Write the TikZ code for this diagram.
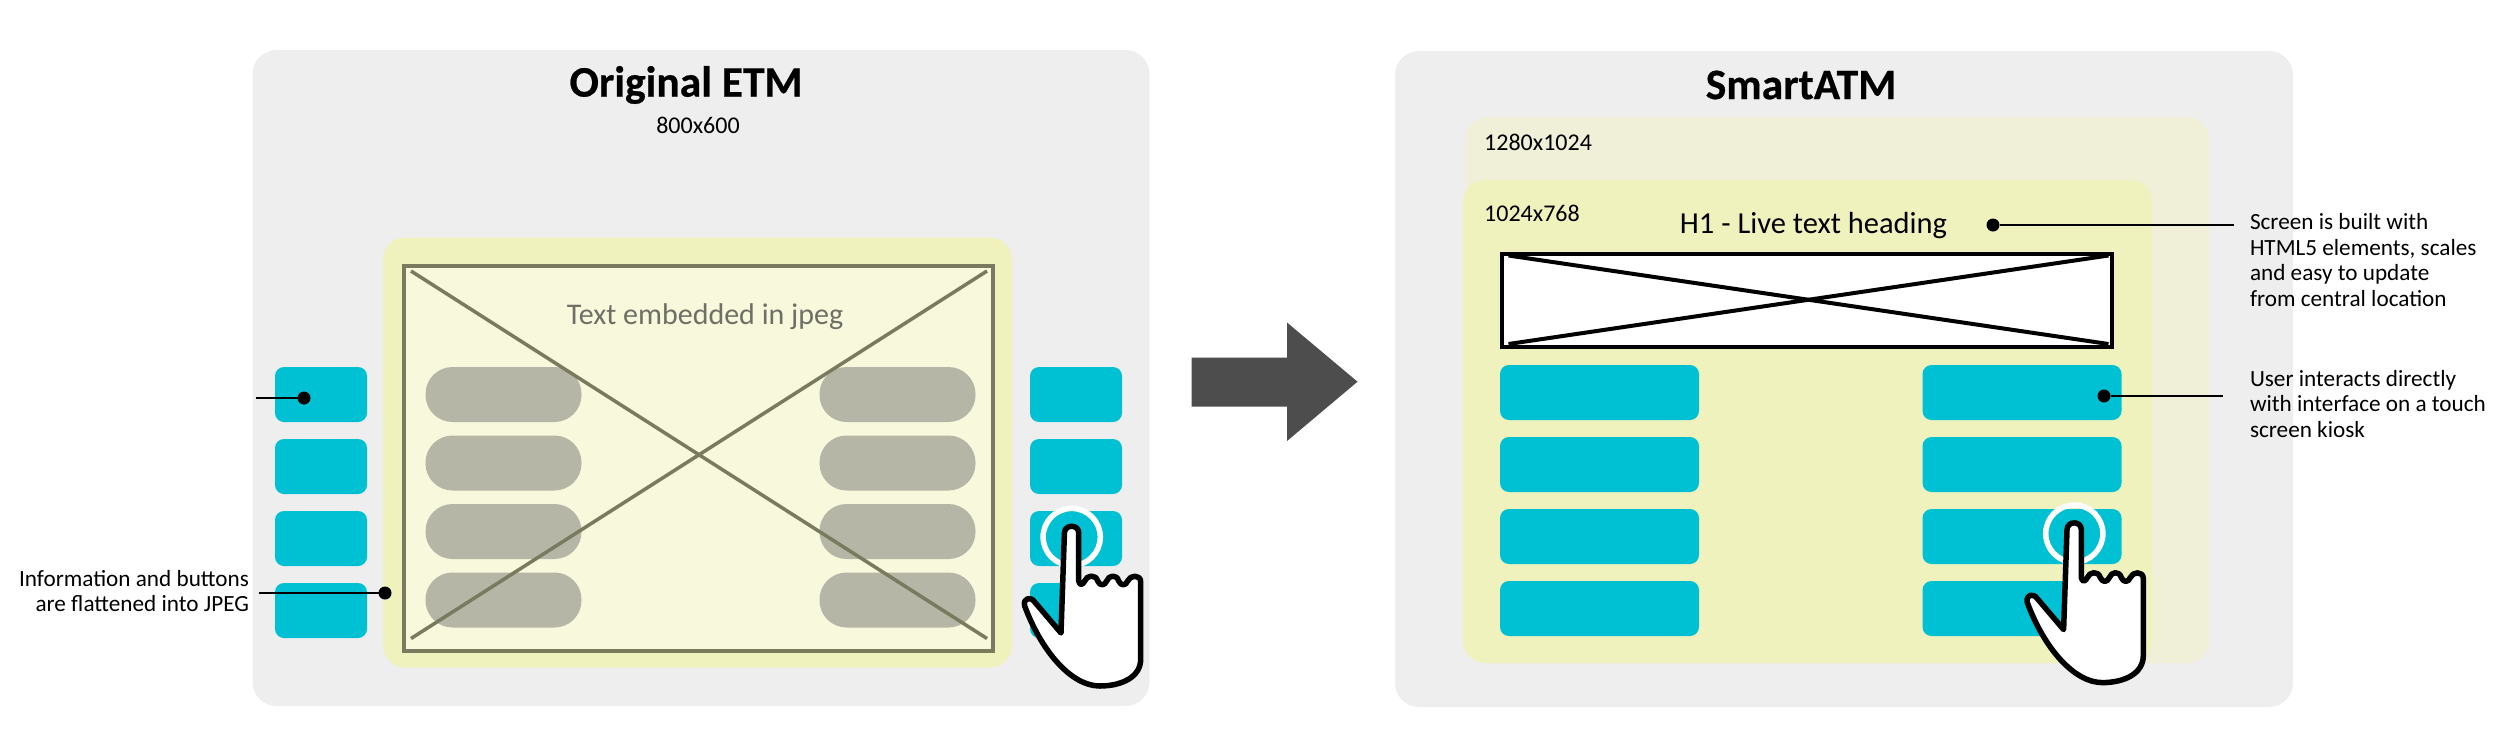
\documentclass[tikz,border=0pt]{standalone}
\usepackage{fontspec}
\setmainfont{Carlito}[BoldFeatures={FakeBold=0.5}]
\usepackage{xcolor}
\usetikzlibrary{positioning}
\definecolor{panelgray}{HTML}{EEEEEE}
\definecolor{screenyellow}{HTML}{F0F2BD}
\definecolor{screenpale}{HTML}{F0F0D8}
\definecolor{jpegfill}{HTML}{F8F8DD}
\definecolor{btncyan}{HTML}{00C1D4}
\definecolor{pillgray}{HTML}{B5B6A6}
\definecolor{jpegline}{HTML}{797A5E}
\definecolor{jpegtextgray}{HTML}{6F7065}
\definecolor{bigarrow}{HTML}{4D4D4D}

\tikzset{
  panel/.style={fill=panelgray, rounded corners=24pt, minimum width=#1, minimum height=656pt, inner sep=0pt, outer sep=0pt},
  screen/.style={rounded corners=22pt, inner sep=0pt, outer sep=0pt},
  keybtn/.style={fill=btncyan, rounded corners=9pt, minimum width=92pt, minimum height=55pt, inner sep=0pt, outer sep=0pt},
  widebtn/.style={keybtn, minimum width=199pt},
  pill/.style={fill=pillgray, rounded corners=27pt, minimum width=156pt, minimum height=55pt, inner sep=0pt, outer sep=0pt},
  dotmark/.style={circle, fill=black, minimum size=13pt, inner sep=0pt, outer sep=0pt},
  leader/.style={draw=black, line width=1.5pt},
  note/.style={font=\fontsize{23.2}{25.8}\selectfont, align=left, inner sep=0pt, outer sep=0pt},
  dims/.style={font=\fontsize{24}{26}\selectfont, inner sep=0pt},
  maintitle/.style={font=\fontsize{43.5}{48}\bfseries\selectfont, inner sep=0pt},
  hand/.pic={
    \begin{scope}
      \clip (-40,-40) rectangle (40,28.4);
      \draw[white, line width=5.5pt] (0,0) circle (28.6);
    \end{scope}
    \draw[black, fill=white, line width=5.5pt, line join=round]
      (-10.7,96) -- (-7.3,-4) .. controls (-7,-13) and (7,-13) .. (7,-4)
      -- (7,44) .. controls (8,49) and (11,48) .. (13,44)
      .. controls (15,38) and (24,37) .. (26,44) .. controls (28,49) and (33,49) .. (35,44)
      .. controls (37,38) and (45,37) .. (47,44) .. controls (49,49) and (54,49) .. (56,44)
      .. controls (58,38) and (69,37) .. (69,45)
      -- (69,122) .. controls (69,140) and (50,149) .. (28,149)
      .. controls (0,149) and (-30,115) .. (-47,69)
      .. controls (-49,61) and (-41,59) .. (-37,65) -- cycle;
  }
}

\begin{document}
\begin{tikzpicture}[x=1pt, y=-1pt]
  \useasboundingbox (0,0) rectangle (2500,748);
  % left panel
  \node[panel=897pt] (etm) at (701,378) {};
  \node[maintitle] (etmtitle) at (686,85) {Original ETM};
  \node[dims] (etmsize) at (698,125) {800x600};
  \node[screen, fill=screenyellow, minimum width=629pt, minimum height=430pt] (jpegscreen) at (697.5,452.5) {};
  \node[draw=jpegline, fill=jpegfill, line width=4pt, minimum width=589pt, minimum height=385pt, inner sep=0pt] (jpegimg) at (698.5,458.5) {};
  \node[font=\fontsize{30}{34}\selectfont, text=jpegtextgray, inner sep=0pt] (jpegtext) at (705,317) {Text embedded in jpeg};

  \node[pill] (pa) at (503.5,394.5) {};
  \node[pill, below=13.5pt of pa] (pb) {};
  \node[pill, below=13.5pt of pb] (pc) {};
  \node[pill, below=13.5pt of pc] (pd) {};
  \node[pill] (pe) at (897.5,394.5) {};
  \node[pill, below=13.5pt of pe] (pf) {};
  \node[pill, below=13.5pt of pf] (pg) {};
  \node[pill, below=13.5pt of pg] (ph) {};
  \coordinate (xa) at (411,271);
  \coordinate (xb) at (987,638.5);
  \coordinate (xc) at (987,271);
  \coordinate (xd) at (411,638.5);
  \draw[jpegline, line width=3.5pt] (xa) -- (xb);
  \draw[jpegline, line width=3.5pt] (xc) -- (xd);

  \node[keybtn] (ka) at (321,394.5) {};
  \node[keybtn, below=17pt of ka] (kb) {};
  \node[keybtn, below=17pt of kb] (kc) {};
  \node[keybtn, below=17pt of kc] (kd) {};
  \node[keybtn] (ke) at (1076,394.5) {};
  \node[keybtn, below=17pt of ke] (kf) {};
  \node[keybtn, below=17pt of kf] (kg) {};
  \node[keybtn, below=17pt of kg] (kh) {};
  \pic at (1071.7,537) {hand};

  % left notes
  \node[dotmark] (dota) at (304,398) {};
  \coordinate (enda) at (255.5,398);
  \draw[leader] (enda) -- (dota);
  \node[dotmark] (dotb) at (385,593) {};
  \node[note, align=right, anchor=east] (flatnote) at (249,591) {Information and buttons\\are flattened into JPEG};
  \coordinate (endb) at (258.5,593);
  \draw[leader] (endb) -- (dotb);

  % big arrow
  \fill[bigarrow] (1191.5,357.5) -- (1287,357.5) -- (1287,322.5) -- (1357.5,381.7) -- (1287,441) -- (1287,406.5) -- (1191.5,406.5) -- cycle;

  % right panel
  \node[panel=898pt] (atm) at (1844,379) {};
  \node[maintitle] (atmtitle) at (1801,85) {SmartATM};
  \node[screen, fill=screenpale, minimum width=743pt, minimum height=546pt] (bigscreen) at (1837.5,390) {};
  \node[screen, fill=screenyellow, minimum width=689pt, minimum height=483pt] (smallscreen) at (1807.5,421.5) {};
  \node[dims, anchor=west] (bigsize) at (1484,142.5) {1280x1024};
  \node[dims, anchor=west] (smallsize) at (1484,213) {1024x768};
  \node[font=\fontsize{30.5}{34}\selectfont, inner sep=0pt] (headline) at (1813.5,225.5) {H1 - Live text heading};
  \node[draw=black, fill=white, line width=4pt, minimum width=610pt, minimum height=93pt, inner sep=0pt] (bannerimg) at (1807,300.5) {};
  \coordinate (ya) at (1508.5,255.5);
  \coordinate (yb) at (2108.5,344);
  \coordinate (yc) at (2108.5,255.5);
  \coordinate (yd) at (1508.5,344);
  \draw[black, line width=4pt] (ya) -- (yb);
  \draw[black, line width=4pt] (yc) -- (yd);

  \node[widebtn] (wa) at (1599.5,392.5) {};
  \node[widebtn, below=17pt of wa] (wb) {};
  \node[widebtn, below=17pt of wb] (wc) {};
  \node[widebtn, below=17pt of wc] (wd) {};
  \node[widebtn] (we) at (2022,392.5) {};
  \node[widebtn, below=17pt of we] (wf) {};
  \node[widebtn, below=17pt of wf] (wg) {};
  \node[widebtn, below=17pt of wg] (wh) {};
  \pic at (2074.3,533.6) {hand};

  % right notes
  \node[dotmark] (dotc) at (1993,225) {};
  \node[note, anchor=west] (buildnote) at (2250,260) {Screen is built with\\HTML5 elements, scales\\and easy to update\\from central location};
  \coordinate (endc) at (2233.5,225);
  \draw[leader] (dotc) -- (endc);
  \node[dotmark] (dotd) at (2104,396) {};
  \node[note, anchor=west] (touchnote) at (2250,404) {User interacts directly\\with interface on a touch\\screen kiosk};
  \coordinate (endd) at (2223,396);
  \draw[leader] (dotd) -- (endd);
\end{tikzpicture}
\end{document}
